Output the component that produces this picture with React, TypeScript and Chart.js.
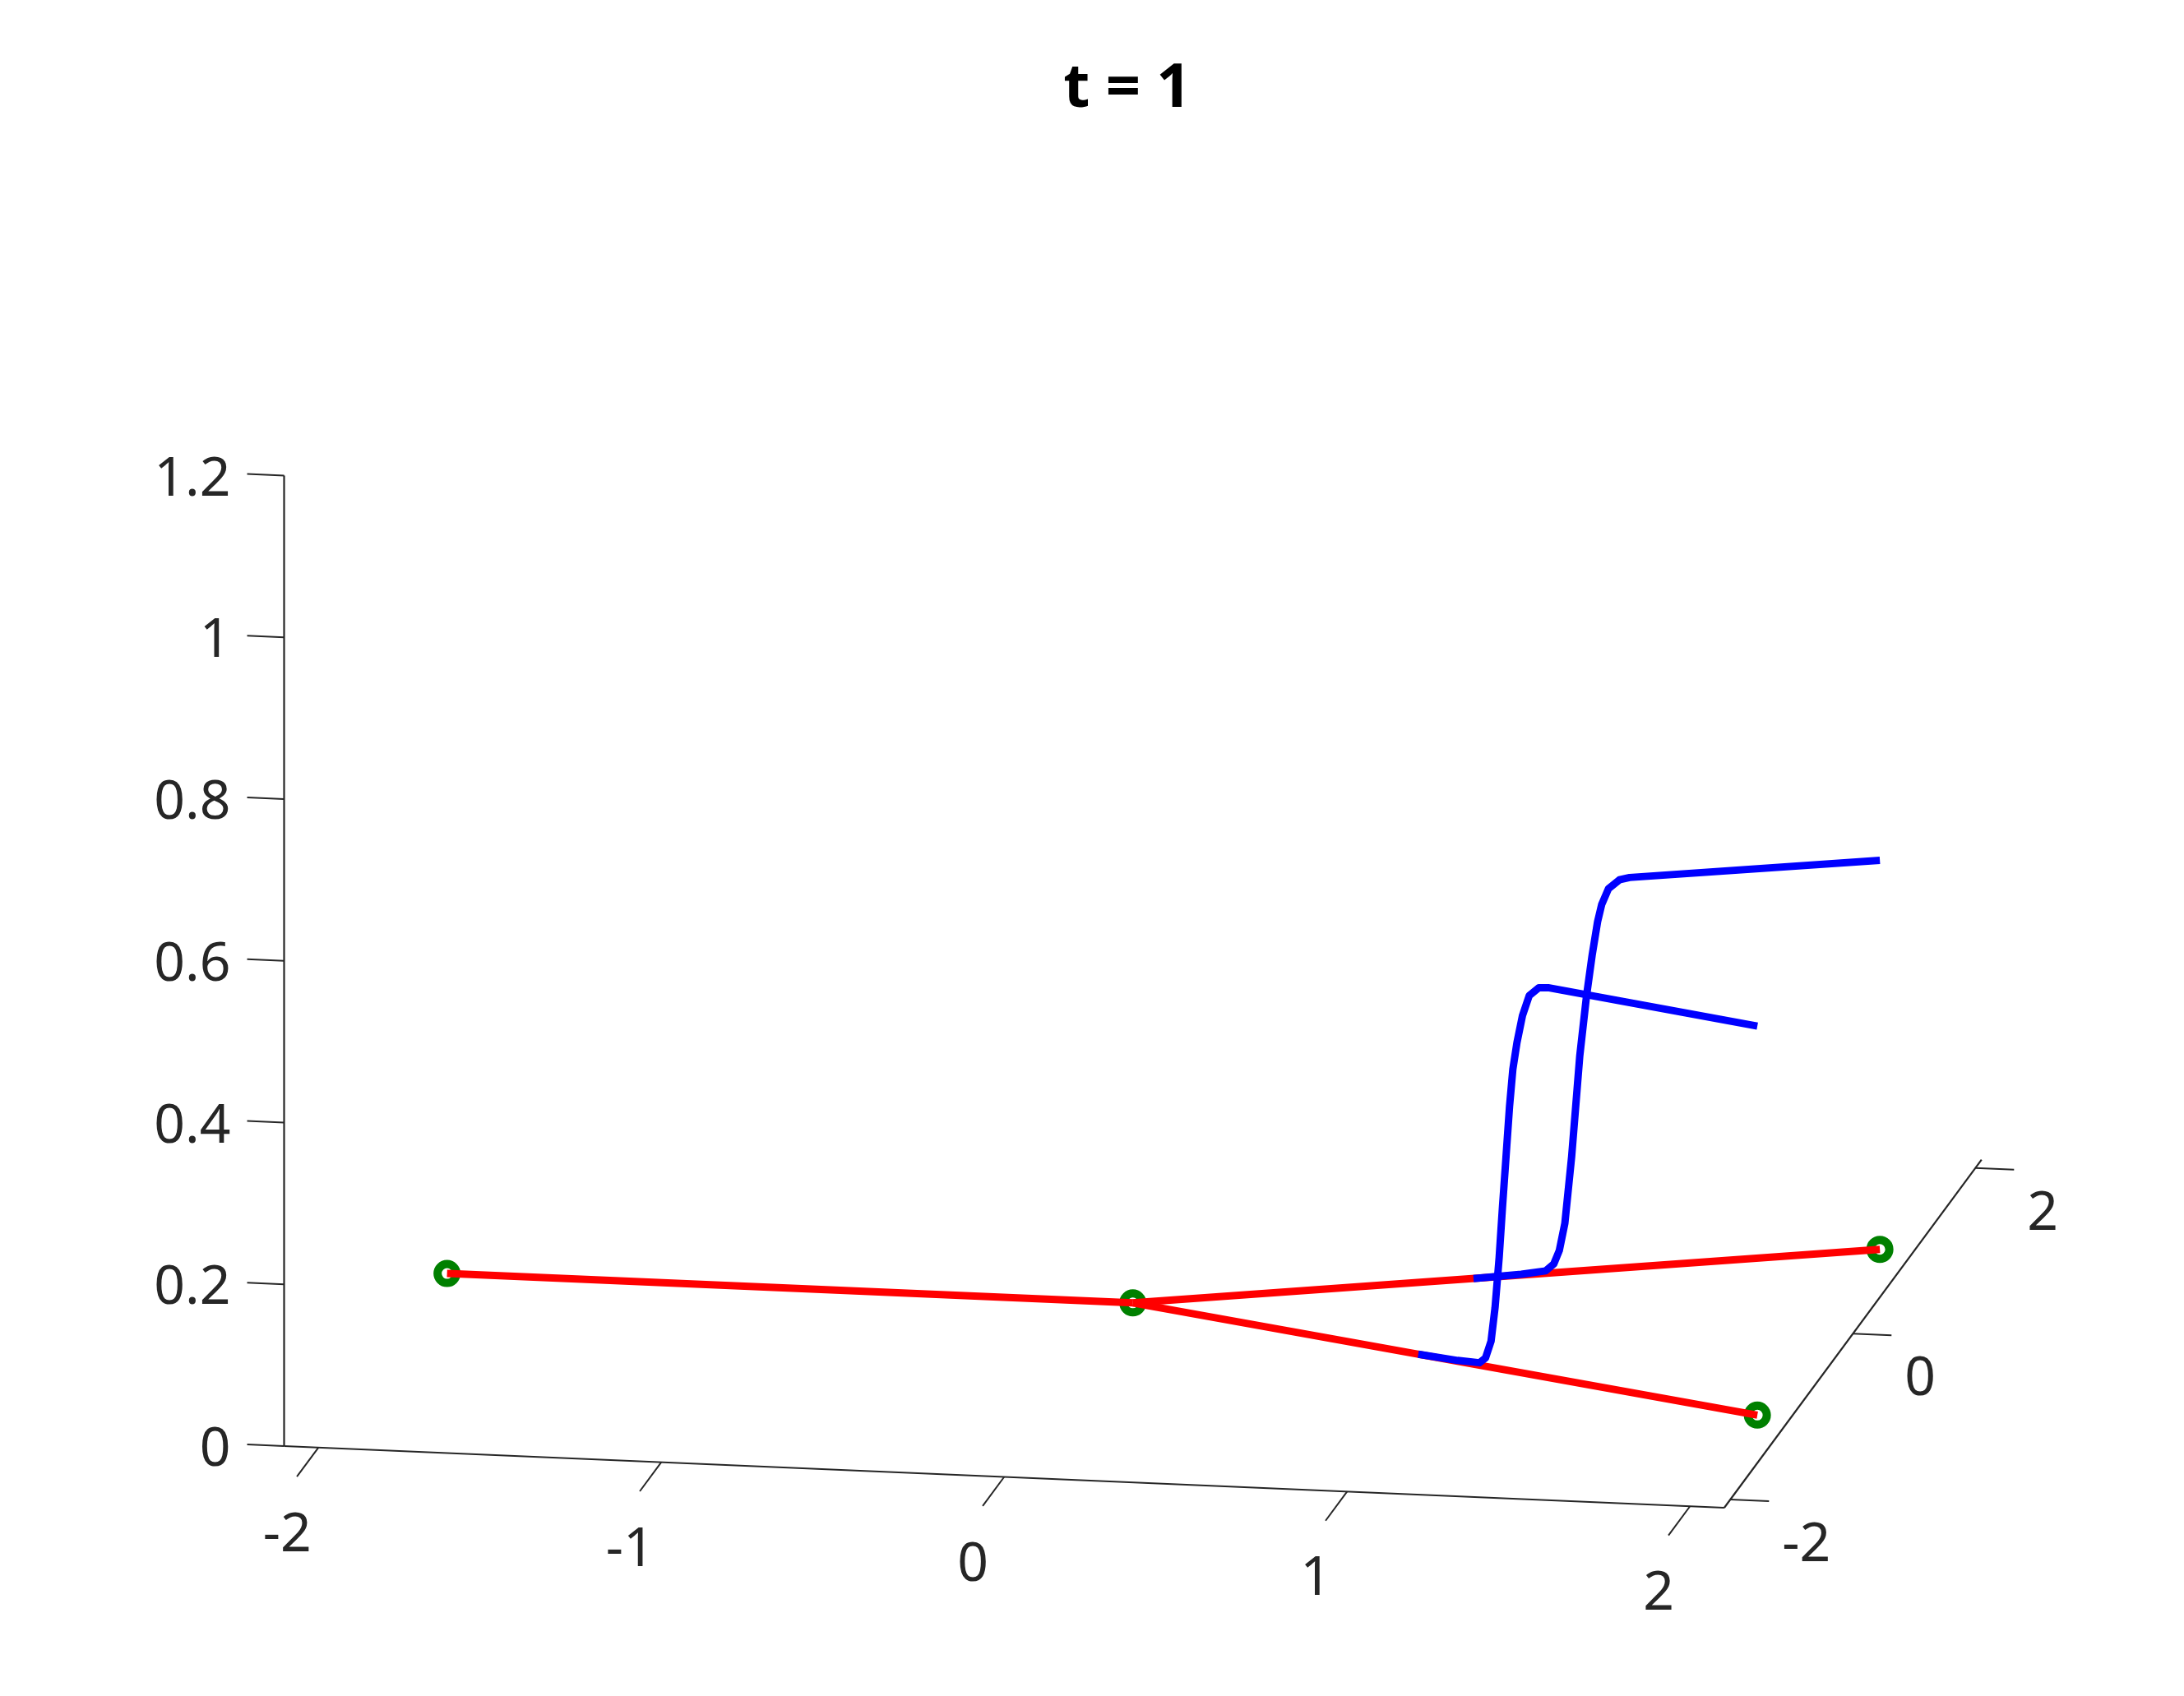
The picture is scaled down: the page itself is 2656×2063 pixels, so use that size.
import React, { useEffect, useRef } from "react";
import { Chart, registerables } from "chart.js";

Chart.register(...registerables);

// ---------------- data ----------------
// Graph nodes (all at z = 0)
const nodeX = [-2, 0, 2, 2];
const nodeY = [0, 0, 1, -1];
// Edges (node index pairs)
const edgeFrom = [0, 1, 1];
const edgeTo = [1, 2, 3];

// Solution u along edge 1 -> 2 (position along the edge, 0..1) at t = 1
const upperS = [0.456, 0.52, 0.5526, 0.5636, 0.5709, 0.5783, 0.5874, 0.5947, 0.5983, 0.6074, 0.6148, 0.6221, 0.6276, 0.6367, 0.6514, 0.665, 1.0];
const upperU = [0, 0.001, 0.003, 0.011, 0.027, 0.06, 0.142, 0.225, 0.266, 0.34, 0.389, 0.43, 0.451, 0.47, 0.48, 0.482, 0.481];
// Solution u along edge 1 -> 3
const lowerS = [0.457, 0.52, 0.555, 0.5648, 0.5736, 0.58, 0.5866, 0.5919, 0.5976, 0.6032, 0.6085, 0.6151, 0.6239, 0.6348, 0.6501, 0.665, 1.0];
const lowerU = [0, 0.001, 0.003, 0.0104, 0.0323, 0.0747, 0.1378, 0.2008, 0.2639, 0.3268, 0.3733, 0.4073, 0.4418, 0.4682, 0.4799, 0.482, 0.481];

// Axes
const XLIM = [-2.1, 2.1];
const YLIM = [-2.1, 2.1];
const ZLIM = [0, 1.2];
const xTicks = [-2, -1, 0, 1, 2];
const yTicks = [-2, 0, 2];
const zTicks = [0, 0.2, 0.4, 0.6, 0.8, 1, 1.2];
const zTickLabels = ["0", "0.2", "0.4", "0.6", "0.8", "1", "1.2"];
const titleText = "t = 1";

// ---------------- view geometry ----------------
const W = 2656;
const H = 2063;
const ORIGIN = [345.5, 1759]; // screen position of (xmin, ymin, zmin)
const EX = [417, 17.86]; // screen step per unit x
const EY = [74.5, -100.8]; // per unit y
const EZ = [0, -983.75]; // per unit z

function proj(x: number, y: number, z: number) {
  const a = x - XLIM[0];
  const b = y - YLIM[0];
  const c = z - ZLIM[0];
  return {
    x: ORIGIN[0] + a * EX[0] + b * EY[0] + c * EZ[0],
    y: ORIGIN[1] + a * EX[1] + b * EY[1] + c * EZ[1],
  };
}

function edgePoints(e: number, s: number[], u: number[]) {
  const i = edgeFrom[e];
  const j = edgeTo[e];
  return s.map((t, k) =>
    proj(nodeX[i] + t * (nodeX[j] - nodeX[i]), nodeY[i] + t * (nodeY[j] - nodeY[i]), u[k])
  );
}

const FONT = '"Noto Sans", "Open Sans", sans-serif';
const AX = "#262626";

const axesPlugin = {
  id: "axes3d",
  beforeDatasetsDraw(chart: any) {
    const ctx = chart.ctx as CanvasRenderingContext2D;
    const sx = chart.scales.x;
    const sy = chart.scales.y;
    const P = (x: number, y: number, z: number) => {
      const p = proj(x, y, z);
      return [sx.getPixelForValue(p.x), sy.getPixelForValue(p.y)];
    };
    const seg = (a: number[], b: number[]) => {
      ctx.beginPath();
      ctx.moveTo(a[0], a[1]);
      ctx.lineTo(b[0], b[1]);
      ctx.stroke();
    };
    const unit = (a: number[], b: number[]) => {
      const dx = b[0] - a[0];
      const dy = b[1] - a[1];
      const l = Math.hypot(dx, dy);
      return [dx / l, dy / l];
    };
    ctx.save();
    ctx.strokeStyle = AX;
    ctx.lineWidth = 2.2;
    ctx.lineCap = "butt";
    // axis lines
    seg(P(XLIM[0], YLIM[0], ZLIM[0]), P(XLIM[1], YLIM[0], ZLIM[0]));
    seg(P(XLIM[1], YLIM[0], ZLIM[0]), P(XLIM[1], YLIM[1], ZLIM[0]));
    seg(P(XLIM[0], YLIM[0], ZLIM[0]), P(XLIM[0], YLIM[0], ZLIM[1]));

    ctx.fillStyle = AX;
    ctx.font = `66px ${FONT}`;
    ctx.textBaseline = "alphabetic";
    ctx.lineWidth = 2;

    // x ticks (point toward -y)
    const dX = unit(P(0, YLIM[0], 0), P(0, YLIM[0] - 1, 0));
    ctx.textAlign = "center";
    xTicks.forEach((t) => {
      const a = P(t, YLIM[0], ZLIM[0]);
      seg(a, [a[0] + dX[0] * 44, a[1] + dX[1] * 44]);
      ctx.fillText(String(t), a[0] - 38, a[1] + 126);
    });
    // y ticks (point toward +x)
    const dY = unit(P(XLIM[1], 0, 0), P(XLIM[1] + 1, 0, 0));
    ctx.textAlign = "left";
    yTicks.forEach((t) => {
      const a = P(XLIM[1], t, ZLIM[0]);
      seg(a, [a[0] + dY[0] * 47, a[1] + dY[1] * 47]);
      ctx.fillText(String(t), a[0] + 63, a[1] + 75);
    });
    // z ticks (point toward -x)
    const dZ = unit(P(XLIM[0], YLIM[0], 0), P(XLIM[0] - 1, YLIM[0], 0));
    ctx.textAlign = "right";
    zTicks.forEach((t, i) => {
      const a = P(XLIM[0], YLIM[0], t);
      seg(a, [a[0] + dZ[0] * 45, a[1] + dZ[1] * 45]);
      ctx.fillText(zTickLabels[i], a[0] - 65, a[1] + 24);
    });

    // title
    ctx.fillStyle = "#000000";
    ctx.font = `bold 74px ${FONT}`;
    ctx.textAlign = "center";
    ctx.fillText(titleText, 1371, 130);
    ctx.restore();
  },
};

export default function App() {
  const ref = useRef<HTMLCanvasElement | null>(null);
  useEffect(() => {
    if (!ref.current) return;
    const lineBase = {
      showLine: true,
      pointRadius: 0,
      borderWidth: 9,
      borderJoinStyle: "round" as const,
      borderCapStyle: "butt" as const,
      tension: 0,
      clip: false as const,
    };
    const redSets = edgeFrom.map((f, e) => ({
      ...lineBase,
      label: `edge ${e + 1}`,
      data: [proj(nodeX[f], nodeY[f], 0), proj(nodeX[edgeTo[e]], nodeY[edgeTo[e]], 0)],
      borderColor: "#ff0000",
      order: 2,
    }));
    const blueSets = [
      { ...lineBase, label: "u edge 2", data: edgePoints(1, upperS, upperU), borderColor: "#0000ff", order: 0 },
      { ...lineBase, label: "u edge 3", data: edgePoints(2, lowerS, lowerU), borderColor: "#0000ff", order: 1 },
    ];
    const nodeSet = {
      label: "nodes",
      data: nodeX.map((x, i) => proj(x, nodeY[i], 0)),
      showLine: false,
      pointStyle: "circle" as const,
      pointRadius: 11.5,
      pointBorderWidth: 10,
      pointBorderColor: "#008000",
      pointBackgroundColor: "rgba(0,0,0,0)",
      borderColor: "#008000",
      clip: false as const,
      order: 3,
    };
    const chart = new Chart(ref.current, {
      type: "scatter",
      data: { datasets: [...blueSets, ...redSets, nodeSet] as any },
      options: {
        animation: false,
        responsive: false,
        devicePixelRatio: 1,
        events: [],
        layout: { padding: 0, autoPadding: false },
        plugins: {
          legend: { display: false },
          tooltip: { enabled: false },
          title: { display: false },
        },
        scales: {
          x: { type: "linear", min: 0, max: W, display: false },
          y: { type: "linear", min: 0, max: H, reverse: true, display: false },
        },
      },
      plugins: [axesPlugin],
    });
    return () => chart.destroy();
  }, []);
  return (
    <div style={{ position: "fixed", left: 0, top: 0, width: W, height: H, background: "#ffffff" }}>
      <canvas ref={ref} width={W} height={H} style={{ display: "block", width: W, height: H }} />
    </div>
  );
}
